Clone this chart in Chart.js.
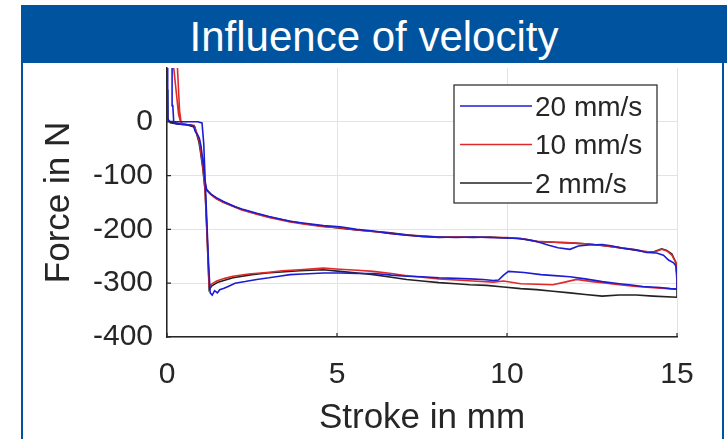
<!DOCTYPE html>
<html>
<head>
<meta charset="utf-8">
<script src="https://cdn.jsdelivr.net/npm/chart.js@4/dist/chart.umd.min.js"></script>
<style>
html,body{margin:0;padding:0;background:#fff;width:727px;height:439px;overflow:hidden;font-family:"Liberation Sans",Arial,sans-serif;}
#frame{position:absolute;left:21px;top:5px;width:699px;height:440px;border-left:2px solid #00549F;border-right:2px solid #00549F;z-index:2;pointer-events:none;}
#header{position:absolute;left:21px;top:5px;width:706px;height:58px;background:#00549F;color:#fff;font-size:42px;line-height:64px;text-align:center;z-index:3;overflow:hidden;white-space:nowrap;}
#wrap{position:absolute;left:0;top:0;width:727px;height:439px;z-index:1;}
</style>
</head>
<body>
<div id="wrap"><canvas id="c" width="727" height="439"></canvas></div>
<div id="frame"></div>
<div id="header">Influence of velocity</div>
<script>
// ---- data ----
const seriesLabels = ["20 mm/s", "10 mm/s", "2 mm/s"];
const seriesColors = ["#1c1cd2", "#e02a2a", "#222222"];
const xTicks = [0, 5, 10, 15];
const yTicks = [-400, -300, -200, -100, 0];

// 20 mm/s : stroke (mm) and force (N), one full loop
const stroke20 = [0.02,0.02,0.05,0.3,0.6,0.9,1.03,1.08,1.15,1.22,1.27,1.33,1.4,1.48,1.55,1.66,1.8,2.0,2.3,2.64,3.0,3.3,3.62,4.0,4.6,5.1,5.6,6.1,6.6,7.05,7.5,8.0,8.5,8.9,9.3,9.6,9.75,9.9,10.04,10.5,11.0,11.4,11.85,12.3,12.8,13.3,13.6,14.0,14.5,14.8,15.0,
  15.0,14.97,14.9,14.75,14.6,14.4,14.1,13.8,13.4,13.1,12.8,12.4,12.1,11.85,11.5,11.2,10.9,10.6,10.3,10.0,9.5,9.0,8.5,8.0,7.5,7.05,6.5,6.07,5.58,5.09,4.6,4.0,3.62,3.0,2.64,2.2,2.0,1.66,1.45,1.3,1.17,1.12,1.05,1.0,0.95,0.88,0.83,0.78,0.7,0.5,0.3,0.2,0.17,0.15];
const force20 = [110,4,1,0,0,0,-2,-40,-150,-260,-318,-322,-314,-318,-312,-310,-306,-300,-297,-293,-290,-287,-284,-283,-281,-281,-282,-282,-285,-287,-288,-290,-291,-292,-293,-295,-294,-285,-278,-280,-284,-286,-288,-292,-297,-301,-303,-306,-308,-310,-311,
  -285,-268,-262,-257,-248,-244,-243,-238,-235,-231,-228,-229,-231,-237,-234,-229,-223,-219,-217,-216,-215,-214,-215,-214,-213,-211,-207,-203,-200,-195,-193,-188,-185,-176,-170,-162,-158,-148,-141,-135,-127,-110,-70,-45,-30,-22,-18,-8,-6,-5,-4,-2,30,110];

// 10 mm/s
const stroke10 = [0.3,0.37,0.42,0.6,0.8,0.86,0.95,1.05,1.12,1.18,1.24,1.3,1.46,1.7,1.94,2.4,2.93,3.4,3.9,4.6,5.09,5.6,6.07,6.6,7.05,7.5,8.0,8.5,9.0,9.6,9.9,10.4,10.9,11.35,11.7,12.05,12.5,12.8,13.3,13.8,14.4,15.0,
  15.0,14.97,14.85,14.7,14.55,14.3,14.0,13.6,13.2,12.8,12.4,11.85,11.4,10.9,10.4,10.0,9.5,9.0,8.5,8.0,7.5,7.05,6.5,6.07,5.58,5.09,4.6,4.0,3.62,3.0,2.64,2.2,1.66,1.45,1.3,1.15,1.1,1.05,0.97,0.9,0.84,0.78,0.6,0.45,0.4,0.34,0.19];
const force10 = [110,20,-3,-5,-7,-18,-35,-80,-125,-210,-306,-302,-296,-291,-287,-283,-280,-277,-275,-272,-274,-276,-278,-282,-286,-289,-292,-294,-296,-298,-296,-301,-302,-303,-298,-293,-297,-299,-303,-306,-309,-311,
  -290,-262,-248,-240,-237,-243,-240,-236,-233,-230,-227,-225,-224,-222,-217,-215,-215,-214,-214,-214,-212,-211,-207,-204,-201,-197,-195,-190,-186,-178,-172,-164,-150,-143,-136,-126,-110,-78,-40,-25,-16,-7,-5,-3,0,14,105];

// 2 mm/s
const stroke2 = [0.03,0.1,0.4,0.8,0.86,0.95,1.05,1.12,1.18,1.24,1.32,1.5,1.94,2.5,2.93,3.9,4.6,5.09,5.6,6.07,6.6,7.05,7.5,8.0,8.5,8.9,9.4,9.9,10.4,10.87,11.35,11.85,12.3,12.8,13.3,13.8,14.3,15.0,
  15.0,14.97,14.85,14.7,14.55,14.3,14.0,13.6,13.2,12.8,12.4,11.85,11.4,10.9,10.4,10.0,9.5,9.0,8.5,8.0,7.5,7.05,6.5,6.07,5.58,5.09,4.6,4.0,3.62,3.0,2.64,2.2,1.66,1.45,1.3,1.15,1.08,1.0,0.93,0.87,0.82,0.6,0.3,0.1,0.03,0.02];
const force2 = [3,0,-4,-8,-20,-40,-85,-127,-215,-312,-305,-298,-290,-284,-281,-277,-275,-278,-281,-284,-289,-293,-296,-299,-301,-303,-304,-307,-310,-312,-315,-318,-321,-324,-322,-322,-324,-326,
  -300,-262,-246,-239,-236,-242,-241,-237,-233,-230,-227,-225,-224,-223,-217,-216,-214,-215,-214,-215,-213,-210,-206,-204,-201,-198,-194,-189,-185,-177,-171,-163,-149,-142,-135,-125,-100,-60,-35,-22,-10,-6,-4,-2,5,60];

const strokes = [stroke20, stroke10, stroke2];
const forces = [force20, force10, force2];

// ---- chart ----
Chart.defaults.font.family = '"Liberation Sans", Arial, sans-serif';
Chart.defaults.color = '#262626';

const datasets = seriesLabels.map((lab, i) => ({
  label: lab,
  data: strokes[i].map((x, j) => ({x: x, y: forces[i][j]})),
  borderColor: seriesColors[i],
  backgroundColor: seriesColors[i],
  borderWidth: 1.6,
  pointRadius: 0,
  showLine: true,
  tension: 0,
  fill: false
}));

const inwardTicks = {
  id: 'inwardTicks',
  afterDatasetsDraw(chart) {
    const {ctx, chartArea: a, scales: {x, y}} = chart;
    ctx.save();
    ctx.strokeStyle = '#262626';
    ctx.lineWidth = 1.2;
    ctx.beginPath();
    yTicks.forEach(v => { const p = y.getPixelForValue(v); ctx.moveTo(a.left, p); ctx.lineTo(a.left + 4, p); });
    xTicks.forEach(v => { const p = x.getPixelForValue(v); ctx.moveTo(p, a.bottom); ctx.lineTo(p, a.bottom - 4); });
    ctx.stroke();
    ctx.restore();
  }
};

const boxLegend = {
  id: 'boxLegend',
  afterDraw(chart) {
    const ctx = chart.ctx;
    const a = chart.chartArea;
    const L = a.left + 287, T = a.top + 17, R = a.left + 490, B = a.top + 135;
    ctx.save();
    ctx.fillStyle = '#ffffff';
    ctx.fillRect(L, T, R - L, B - T);
    ctx.strokeStyle = '#333333';
    ctx.lineWidth = 1.3;
    ctx.strokeRect(L, T, R - L, B - T);
    ctx.font = '28px "Liberation Sans", Arial, sans-serif';
    ctx.textBaseline = 'middle';
    ctx.textAlign = 'left';
    chart.data.datasets.forEach((ds, i) => {
      const yy = T + 21 + i * 38.5;
      ctx.strokeStyle = ds.borderColor;
      ctx.lineWidth = 1.4;
      ctx.beginPath();
      ctx.moveTo(L + 6, yy);
      ctx.lineTo(L + 78, yy);
      ctx.stroke();
      ctx.fillStyle = '#262626';
      ctx.fillText(ds.label, L + 81, yy + 2);
    });
    ctx.restore();
  }
};

new Chart(document.getElementById('c'), {
  type: 'scatter',
  data: { datasets: datasets },
  plugins: [inwardTicks, boxLegend],
  options: {
    responsive: false,
    animation: false,
    layout: { padding: { top: 68, right: 50, left: 0, bottom: 0 } },
    plugins: { legend: { display: false }, tooltip: { enabled: false } },
    scales: {
      x: {
        type: 'linear',
        min: 0, max: 15,
        afterFit(s) { s.height = 102; },
        ticks: { stepSize: 5, font: { size: 30 }, padding: 20, color: '#262626', maxRotation: 0 },
        grid: { color: '#e3e3e3', lineWidth: 1, drawTicks: false },
        border: { display: true, color: '#262626', width: 1.5 },
        title: { display: true, text: 'Stroke in mm', font: { size: 35 }, color: '#262626', padding: { top: 0, bottom: 0 } }
      },
      y: {
        type: 'linear',
        min: -400, max: 100,
        afterFit(s) { s.width = 167; },
        ticks: { stepSize: 100, font: { size: 30 }, padding: 14, color: '#262626',
                 callback: v => (v > 0 ? null : String(v)) },
        grid: { color: '#e3e3e3', lineWidth: 1, drawTicks: false },
        border: { display: true, color: '#262626', width: 1.5 },
        title: { display: true, text: 'Force in N', font: { size: 35 }, color: '#262626', padding: { top: 38, bottom: 0 } }
      }
    }
  }
});
</script>
</body>
</html>
